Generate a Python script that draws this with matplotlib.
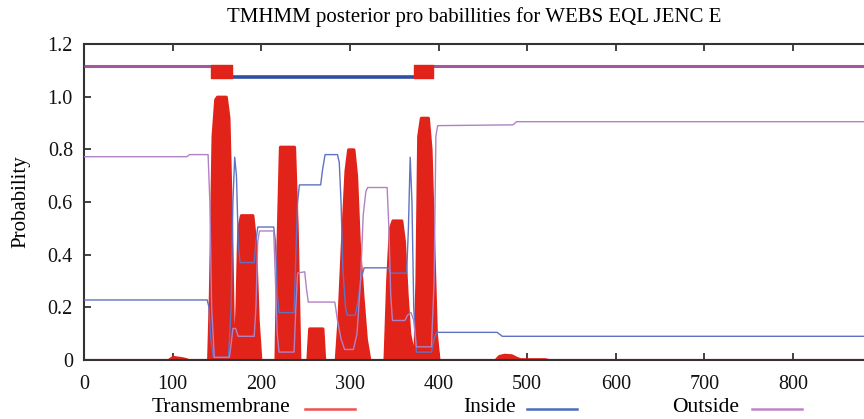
import numpy as np
import matplotlib.pyplot as plt
from matplotlib.lines import Line2D

plt.rcParams['font.family'] = ['Liberation Serif', 'DejaVu Serif']

# posterior probability traces (residue, probability)
tm_x = [0, 95, 100, 112, 118,
        140, 142, 145, 148, 150, 160, 163, 166, 168, 170,
        172, 174, 177, 190, 193, 196, 199,
        216, 218, 221, 237, 240, 243,
        252, 254, 269, 271,
        284, 287, 291, 295, 298, 304, 307, 310, 314, 318, 322,
        339, 342, 345, 348, 358, 361, 364, 367, 370, 373,
        375, 377, 380, 388, 391, 394, 397, 400,
        464, 468, 474, 482, 488, 492, 520, 524, 880]
tm_y = [0, 0, 0.012, 0.006, 0,
        0, 0.25, 0.85, 0.99, 1.0, 1.0, 0.92, 0.5, 0.1, 0.02,
        0.2, 0.5, 0.55, 0.55, 0.45, 0.15, 0,
        0, 0.4, 0.81, 0.81, 0.5, 0,
        0, 0.12, 0.12, 0,
        0, 0.15, 0.45, 0.72, 0.8, 0.8, 0.7, 0.45, 0.25, 0.08, 0,
        0, 0.3, 0.5, 0.53, 0.53, 0.45, 0.25, 0.1, 0.05, 0.05,
        0.3, 0.85, 0.92, 0.92, 0.8, 0.45, 0.1, 0,
        0, 0.015, 0.02, 0.018, 0.008, 0.003, 0.003, 0, 0]

in_x = [0, 139, 141, 143, 146, 163, 166, 168, 170, 172, 174, 176, 192, 194, 196,
        214, 216, 218, 220, 237, 239, 241, 243, 267, 269, 272, 286, 288, 290,
        292, 295, 297, 306, 309, 312, 316, 343, 346, 364, 366, 368, 370, 372,
        375, 392, 395, 398, 466, 472, 880]
in_y = [0.228, 0.228, 0.2, 0.08, 0.01, 0.01, 0.2, 0.6, 0.77, 0.7, 0.45, 0.37, 0.37, 0.45, 0.505,
        0.505, 0.45, 0.25, 0.18, 0.18, 0.4, 0.6, 0.665, 0.665, 0.72, 0.78, 0.78, 0.75, 0.6,
        0.35, 0.2, 0.17, 0.17, 0.22, 0.3, 0.35, 0.35, 0.33, 0.33, 0.5, 0.77, 0.6, 0.2,
        0.03, 0.03, 0.08, 0.105, 0.105, 0.09, 0.09]

out_x = [0, 116, 119, 140, 142, 144, 147, 164, 166, 168, 171, 174, 192, 194, 196, 198,
         214, 216, 218, 220, 237, 239, 241, 249, 251, 253, 283, 286, 290, 294, 304,
         308, 312, 315, 318, 320, 342, 344, 346, 348, 362, 365, 369, 372, 375, 392,
         395, 397, 399, 484, 488, 880]
out_y = [0.772, 0.772, 0.78, 0.78, 0.6, 0.2, 0.01, 0.01, 0.06, 0.12, 0.12, 0.09, 0.09, 0.2, 0.45, 0.49,
         0.49, 0.3, 0.1, 0.03, 0.03, 0.2, 0.33, 0.335, 0.27, 0.22, 0.22, 0.15, 0.08, 0.04, 0.04,
         0.1, 0.3, 0.55, 0.64, 0.655, 0.655, 0.5, 0.25, 0.15, 0.15, 0.17, 0.18, 0.15, 0.05, 0.05,
         0.3, 0.85, 0.89, 0.893, 0.905, 0.905]

# predicted topology along the top
tm_segments = [(143, 167), (372, 394)]
inside_segments = [(167, 372)]
outside_segments = [(0, 143), (394, 880)]

x_ticks = [0, 100, 200, 300, 400, 500, 600, 700, 800]
y_ticks = [0, 0.2, 0.4, 0.6, 0.8, 1.0, 1.2]
y_labels = ['0', '0.2', '0.4', '0.6', '0.8', '1.0', '1.2']

red = '#e2231a'
blue = '#2f4fa2'
purple = '#a2579f'
thin_blue = '#5f72c4'
thin_purple = '#b281c4'

fig = plt.figure(figsize=(8.64, 4.19), dpi=100)
ax = fig.add_axes([84 / 864, 1 - 360 / 419, 1 - 84 / 864, 316 / 419])

ax.fill_between(tm_x, tm_y, 0, facecolor=red, edgecolor=red, lw=2.2, zorder=2)
ax.plot(in_x, in_y, color=thin_blue, lw=1.0, zorder=3)
ax.plot(out_x, out_y, color=thin_purple, lw=1.0, zorder=3)

for a, b in outside_segments:
    ax.hlines(1.118, a, b, color=purple, lw=2.2, zorder=3)
for a, b in inside_segments:
    ax.hlines(1.073, a, b, color=blue, lw=2.6, zorder=3)
ax.broken_barh([(a, b - a) for a, b in tm_segments], (1.071, 0.05), color=red, zorder=4)

ax.set_xlim(0, 880)
ax.set_ylim(0, 1.2)
ax.set_xticks(x_ticks)
ax.set_yticks(y_ticks)
ax.set_yticklabels(y_labels)
ax.tick_params(direction='in', length=5, width=1.2, labelsize=14.5, top=True, colors='#222222',
               labelcolor='#111111')
ax.tick_params(axis='x', pad=11)
ax.tick_params(axis='y', pad=8)
for s in ['left', 'top', 'bottom']:
    ax.spines[s].set_linewidth(1.5)
    ax.spines[s].set_color('#333333')
ax.spines['right'].set_visible(False)
ax.set_ylabel('Probability', fontsize=15, labelpad=12)
ax.set_title('TMHMM posterior pro babillities for WEBS EQL JENC E', fontsize=15, pad=16)

# legend row under the axis
legend_items = [('Transmembrane', '#ef5050', 152, 305), ('Inside', '#4a6cc0', 463, 527),
                ('Outside', '#c085c8', 672, 752)]
for label, col, tx, lx in legend_items:
    fig.text(tx / 864, 1 - 407 / 419, label, fontsize=15.5, va='center', ha='left')
    fig.add_artist(Line2D([lx / 864, (lx + 50) / 864], [1 - 409 / 419] * 2,
                          color=col, lw=1.8, transform=fig.transFigure))

fig.savefig('out.png', dpi=100)
